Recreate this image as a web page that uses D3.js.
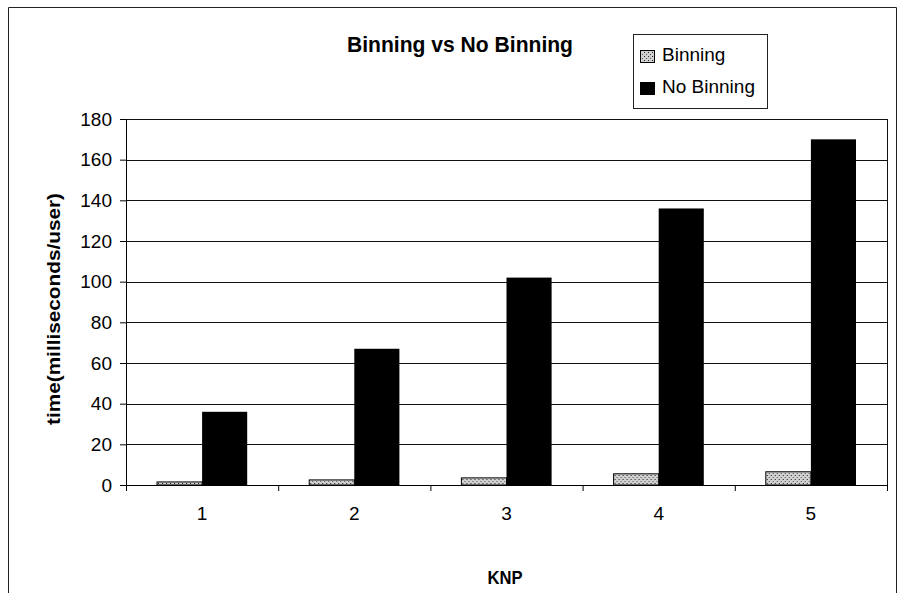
<!DOCTYPE html>
<html>
<head>
<meta charset="utf-8">
<script src="https://cdn.jsdelivr.net/npm/d3@7"></script>
<style>
  body { margin: 0; background: #fff; }
  svg { display: block; font-family: Arial, "Liberation Sans", sans-serif; }
</style>
</head>
<body>
<svg id="chart" width="898" height="593"></svg>
<script>
const categories = ["1", "2", "3", "4", "5"];
const seriesNames = ["Binning", "No Binning"];
const binning = [1.5, 2.5, 3.5, 5.5, 6.5];
const noBinning = [36, 67, 102, 136, 170];
const yTicks = [0, 20, 40, 60, 80, 100, 120, 140, 160, 180];

const svg = d3.select("#chart");
const margin = {top: 119, right: 11, bottom: 108, left: 126};
const width = +svg.attr("width");
const height = +svg.attr("height");
const innerWidth = width - margin.left - margin.right;
const innerHeight = height - margin.top - margin.bottom;

// speckled fill for the Binning series
const defs = svg.append("defs");
const pat = defs.append("pattern")
    .attr("id", "speckle")
    .attr("width", 4).attr("height", 4)
    .attr("patternUnits", "userSpaceOnUse");
pat.append("rect").attr("width", 4).attr("height", 4).attr("fill", "#d0d0d0");
pat.append("rect").attr("x", 0).attr("y", 0).attr("width", 1).attr("height", 1).attr("fill", "#222");
pat.append("rect").attr("x", 2).attr("y", 2).attr("width", 1).attr("height", 1).attr("fill", "#555");

// outer frame (bottom edge is off the page)
svg.append("path")
    .attr("d", "M8.5,593 V7.5 H896.5 V593")
    .attr("fill", "none").attr("stroke", "#222").attr("stroke-width", 1);

const chart = svg.append("g")
    .attr("transform", `translate(${margin.left},${margin.top})`);

const x = d3.scaleBand().domain(categories).range([0, innerWidth]);
const x1 = d3.scaleBand().domain(seriesNames).range([31, x.bandwidth() - 31]);
const y = d3.scaleLinear().domain([0, 180]).range([innerHeight, 0]);

// gridlines
chart.append("g")
    .selectAll("line")
    .data(yTicks)
    .join("line")
    .attr("x1", 0).attr("x2", innerWidth)
    .attr("y1", d => Math.round(y(d)) + 0.5)
    .attr("y2", d => Math.round(y(d)) + 0.5)
    .attr("stroke", "#111").attr("stroke-width", 1);

// right border of plot
chart.append("line")
    .attr("x1", innerWidth + 0.5).attr("x2", innerWidth + 0.5)
    .attr("y1", y(180)).attr("y2", y(0))
    .attr("stroke", "#111");

// bars
const groups = chart.selectAll("g.grp")
    .data(categories)
    .join("g")
    .attr("class", "grp")
    .attr("transform", d => `translate(${x(d)},0)`);

groups.append("rect")
    .attr("x", x1("Binning"))
    .attr("width", x1.bandwidth())
    .attr("y", (d, i) => y(binning[i]))
    .attr("height", (d, i) => y(0) - y(binning[i]))
    .attr("fill", "url(#speckle)")
    .attr("stroke", "#000").attr("stroke-width", 1);

groups.append("rect")
    .attr("x", x1("No Binning"))
    .attr("width", x1.bandwidth())
    .attr("y", (d, i) => y(noBinning[i]))
    .attr("height", (d, i) => y(0) - y(noBinning[i]))
    .attr("fill", "#000");

// y axis
const yAxis = chart.append("g")
    .call(d3.axisLeft(y).tickValues(yTicks).tickSize(6).tickPadding(8));
yAxis.select(".domain").attr("stroke", "#000");
yAxis.selectAll("text").attr("font-size", 19).attr("fill", "#000");

// x axis: ticks at category boundaries
const xAxisG = chart.append("g")
    .attr("transform", `translate(0,${innerHeight})`);
xAxisG.append("line")
    .attr("x1", 0).attr("x2", innerWidth)
    .attr("y1", 0.5).attr("y2", 0.5)
    .attr("stroke", "#000");
xAxisG.selectAll("line.tk")
    .data(categories.concat(["end"]))
    .join("line")
    .attr("class", "tk")
    .attr("x1", (d, i) => i < categories.length ? x(d) + 0.5 : innerWidth + 0.5)
    .attr("x2", (d, i) => i < categories.length ? x(d) + 0.5 : innerWidth + 0.5)
    .attr("y1", 0).attr("y2", 6)
    .attr("stroke", "#000");
xAxisG.selectAll("text")
    .data(categories)
    .join("text")
    .attr("x", d => x(d) + x.bandwidth() / 2)
    .attr("y", 35)
    .attr("text-anchor", "middle")
    .attr("font-size", 19)
    .text(d => d);

// titles
svg.append("text")
    .attr("x", 460).attr("y", 52)
    .attr("text-anchor", "middle")
    .attr("font-size", 22).attr("font-weight", "bold")
    .attr("textLength", 226).attr("lengthAdjust", "spacingAndGlyphs")
    .text("Binning vs No Binning");

svg.append("text")
    .attr("x", 505).attr("y", 584)
    .attr("text-anchor", "middle")
    .attr("font-size", 18).attr("font-weight", "bold")
    .attr("textLength", 35).attr("lengthAdjust", "spacingAndGlyphs")
    .text("KNP");

svg.append("text")
    .attr("transform", "translate(60,309) rotate(-90)")
    .attr("text-anchor", "middle")
    .attr("font-size", 19).attr("font-weight", "bold")
    .attr("textLength", 232).attr("lengthAdjust", "spacingAndGlyphs")
    .text("time(milliseconds/user)");

// legend
const legend = svg.append("g").attr("transform", "translate(633,34)");
legend.append("rect")
    .attr("x", 0.5).attr("y", 0.5)
    .attr("width", 134).attr("height", 74)
    .attr("fill", "#fff").attr("stroke", "#222");
const items = legend.selectAll("g.item")
    .data(seriesNames)
    .join("g")
    .attr("class", "item")
    .attr("transform", (d, i) => `translate(7,${22 + i * 32})`);
items.append("rect")
    .attr("x", 0.5).attr("y", -5.5)
    .attr("width", 14).attr("height", 12)
    .attr("fill", (d, i) => i === 0 ? "url(#speckle)" : "#000")
    .attr("stroke", "#000");
items.append("text")
    .attr("x", 22).attr("y", 5)
    .attr("font-size", 19)
    .text(d => d);
</script>
</body>
</html>
